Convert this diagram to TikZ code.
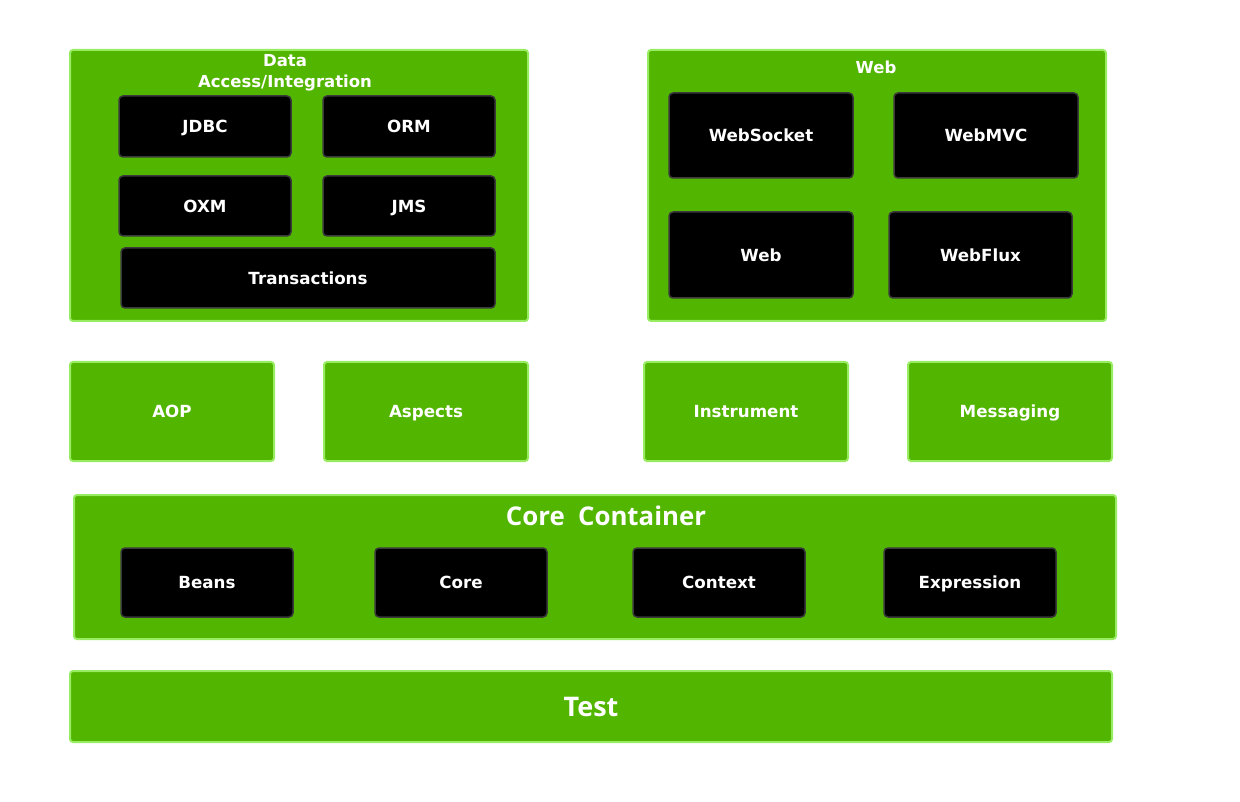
\documentclass[tikz,border=0pt]{standalone}
\usepackage{fontspec}
\setmainfont{DejaVu Sans}
\newfontfamily\titlefont{Open Sans}
\definecolor{sgreen}{HTML}{52B500}
\definecolor{sedge}{HTML}{98EC62}
\definecolor{bedge}{HTML}{3A3A3A}
\begin{document}
\begin{tikzpicture}[x=1pt,y=-1pt,
  lbl/.style={text=white,font=\fontsize{16.7}{19}\selectfont\bfseries,text height=12.2pt,text depth=0pt},
  gbox/.style={draw=sedge,fill=sgreen,line width=2pt,rounded corners=3pt,inner sep=0pt,lbl},
  bbox/.style={draw=bedge,fill=black,line width=1.5pt,rounded corners=4pt,inner sep=0pt,lbl},
  ttl/.style={text=white,inner sep=0pt,align=center,font=\fontsize{16.5}{21}\selectfont\bfseries},
  big/.style={text=white,inner sep=0pt,font=\titlefont\fontsize{25.8}{28}\selectfont\bfseries}]
\useasboundingbox[fill=white] (0,0) rectangle (1240,802);
% Data Access/Integration
\node[gbox,minimum width=458pt,minimum height=271pt] (data) at (299,185.5) {};
\node[ttl] (datat) at (285,73) {Data\\Access/Integration};
\node[bbox,minimum width=172pt,minimum height=61pt] (jdbc) at (205,126.5) {JDBC};
\node[bbox,minimum width=172pt,minimum height=61pt] (orm) at (409,126.5) {ORM};
\node[bbox,minimum width=172pt,minimum height=60pt] (oxm) at (205,206) {OXM};
\node[bbox,minimum width=172pt,minimum height=60pt] (jms) at (409,206) {JMS};
\node[bbox,minimum width=374pt,minimum height=60pt] (trans) at (308,278) {Transactions};
% Web
\node[gbox,minimum width=458pt,minimum height=271pt] (web) at (877,185.5) {};
\node[ttl] (webt) at (876,67) {Web};
\node[bbox,minimum width=184pt,minimum height=85pt] (wsock) at (761,135.5) {WebSocket};
\node[bbox,minimum width=184pt,minimum height=85pt] (wmvc) at (986,135.5) {WebMVC};
\node[bbox,minimum width=184pt,minimum height=86pt] (wweb) at (761,255) {Web};
\node[bbox,minimum width=183pt,minimum height=86pt] (wflux) at (980.5,255) {WebFlux};
% middle row
\node[gbox,minimum width=204pt,minimum height=99pt] (aop) at (172,411.5) {AOP};
\node[gbox,minimum width=204pt,minimum height=99pt] (asp) at (426,411.5) {Aspects};
\node[gbox,minimum width=204pt,minimum height=99pt] (ins) at (746,411.5) {Instrument};
\node[gbox,minimum width=204pt,minimum height=99pt] (msg) at (1010,411.5) {Messaging};
% Core Container
\node[gbox,minimum width=1042pt,minimum height=144pt] (core) at (595,567) {};
\node[big,text height=18.4pt,text depth=0pt] (coret) at (606,516) {Core\ \ Container};
\node[bbox,minimum width=172pt,minimum height=69pt] (beans) at (207,582.5) {Beans};
\node[bbox,minimum width=172pt,minimum height=69pt] (corem) at (461,582.5) {Core};
\node[bbox,minimum width=172pt,minimum height=69pt] (ctx) at (719,582.5) {Context};
\node[bbox,minimum width=172pt,minimum height=69pt] (expr) at (970,582.5) {Expression};
% Test
\node[gbox,minimum width=1042pt,minimum height=71pt,font=\titlefont\fontsize{27}{30}\selectfont\bfseries,text height=19.3pt] (test) at (591,706.5) {Test};
\end{tikzpicture}
\end{document}
